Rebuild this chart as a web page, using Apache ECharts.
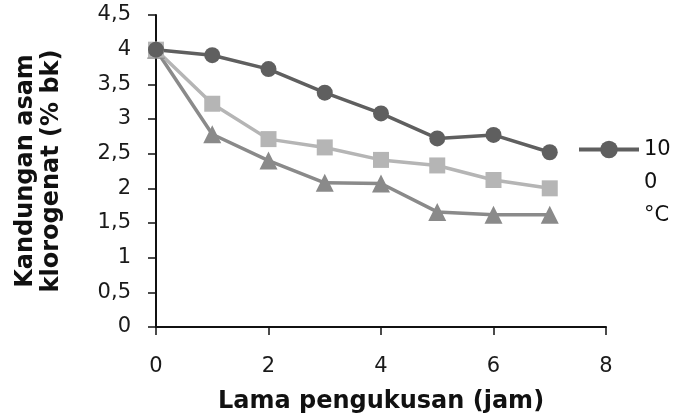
<!DOCTYPE html>
<html><head><meta charset="utf-8">
<script src="https://cdn.jsdelivr.net/npm/echarts@6/dist/echarts.min.js"></script>
<style>html,body{margin:0;padding:0;background:#fff}#c{width:684px;height:420px}</style>
</head><body><div id="c"></div>
<script>
const hours = [0, 1, 2, 3, 4, 5, 6, 7];
const seriesNames = ['100 °C', 'Seri 2', 'Seri 3'];
const circleValues = [4.0, 3.92, 3.72, 3.38, 3.08, 2.72, 2.77, 2.52];
const squareValues = [4.0, 3.22, 2.71, 2.59, 2.41, 2.33, 2.12, 2.00];
const triangleValues = [4.0, 2.78, 2.40, 2.08, 2.07, 1.66, 1.62, 1.62];
const yTicks = ['0','0,5','1','1,5','2','2,5','3','3,5','4','4,5'];
const xTitle = 'Lama pengukusan (jam)';
const yTitle = 'Kandungan asam\nklorogenat (% bk)';
const legendLabel = '\n\n10\n0\n°C';

const font = 'DejaVu Sans';
const pair = vals => hours.map((h, i) => [h, vals[i]]);
const chart = echarts.init(document.getElementById('c'), null, {renderer: 'canvas'});
chart.setOption({
  animation: false,
  grid: {left: 156, right: 78, top: 15, bottom: 93},
  legend: {
    data: [seriesNames[0]], orient: 'vertical', left: 572, top: 62,
    itemWidth: 60, itemHeight: 22, itemGap: 0,
    lineStyle: {width: 4},
    formatter: () => legendLabel,
    textStyle: {fontFamily: font, fontSize: 21, color: '#111', lineHeight: 33}
  },
  xAxis: {
    type: 'value', min: 0, max: 8, interval: 2,
    name: xTitle, nameLocation: 'middle', nameGap: 63,
    nameTextStyle: {fontFamily: font, fontSize: 24, fontWeight: 'bold', color: '#111'},
    axisLine: {lineStyle: {color: '#111', width: 2}},
    axisTick: {show: true, length: 8, lineStyle: {color: '#111', width: 1.5}},
    axisLabel: {fontFamily: font, fontSize: 21, color: '#1a1a1a', margin: 29},
    splitLine: {show: false}
  },
  yAxis: {
    type: 'value', min: 0, max: 4.5, interval: 0.5,
    name: yTitle, nameLocation: 'middle', nameGap: 91,
    nameTextStyle: {fontFamily: font, fontSize: 24, fontWeight: 'bold', color: '#111', lineHeight: 26},
    axisLine: {show: true, lineStyle: {color: '#111', width: 2}},
    axisTick: {show: true, length: 8, lineStyle: {color: '#111', width: 1.5}},
    axisLabel: {fontFamily: font, fontSize: 21, color: '#1a1a1a', margin: 25,
      formatter: v => yTicks[Math.round(v * 2)]},
    splitLine: {show: false}
  },
  series: [
    {name: seriesNames[2], type: 'line', data: pair(triangleValues), symbol: 'triangle', symbolSize: 18,
     itemStyle: {color: '#8a8a8a'}, lineStyle: {color: '#8a8a8a', width: 3.5}},
    {name: seriesNames[1], type: 'line', data: pair(squareValues), symbol: 'rect', symbolSize: 16,
     itemStyle: {color: '#b5b5b5'}, lineStyle: {color: '#b5b5b5', width: 3.5}},
    {name: seriesNames[0], type: 'line', data: pair(circleValues), symbol: 'circle', symbolSize: 16,
     itemStyle: {color: '#5f5f5f'}, lineStyle: {color: '#5f5f5f', width: 3.5}}
  ]
});
</script></body></html>
